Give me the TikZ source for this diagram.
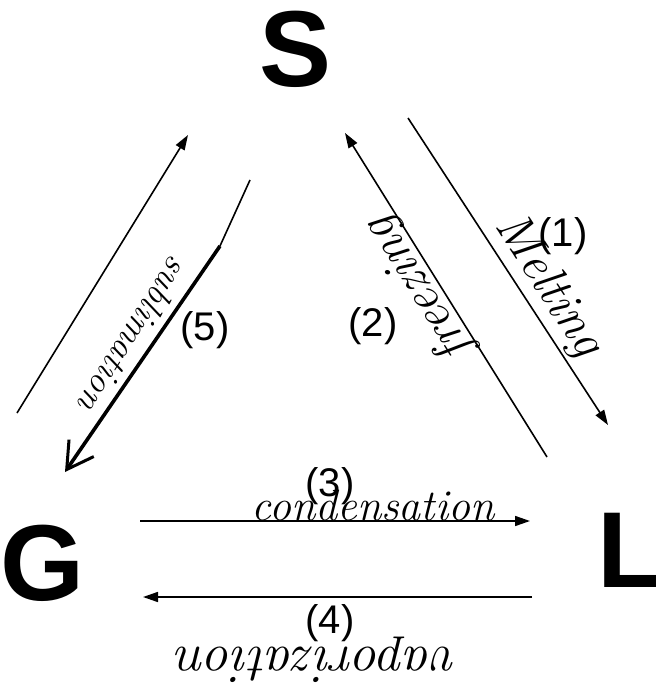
\documentclass[tikz,border=0pt]{standalone}
\usepackage{fontspec}
\newfontfamily\labelfont{Liberation Sans}
\usetikzlibrary{arrows.meta}

\begin{document}
\begin{tikzpicture}[x=1pt, y=-1pt,
  phase/.style={font=\labelfont\bfseries\fontsize{108}{108}\selectfont, inner sep=0pt},
  stepno/.style={font=\labelfont\fontsize{40}{40}\selectfont, inner sep=0pt},
  hand/.style={font=\itshape\fontsize{#1}{#1}\selectfont, inner sep=0pt},
  hand/.default=44,
  flow/.style={-{Triangle[length=15pt,width=10pt]}, line width=1.6pt},
  heavy/.style={-{Straight Barb[length=26pt,width=30pt,line width=3pt]}, line width=3.6pt},
]
\useasboundingbox (0,0) rectangle (655,700);

% phases: solid, gas, liquid
\node[phase, anchor=base] (S) at (296,87) {S};
\node[phase, anchor=base] (G) at (43,600) {G};
\node[phase, anchor=base west] (L) at (597,587) {L};

% arrow ends
\coordinate (m1) at (408,118); \coordinate (m2) at (608,425);
\coordinate (f1) at (547,457); \coordinate (f2) at (345,133);
\coordinate (d1) at (17,413);  \coordinate (d2) at (188,135);
\coordinate (b1) at (250,180); \coordinate (b3) at (220,246);
\coordinate (b2) at (65,472);
\coordinate (c1) at (140,521); \coordinate (c2) at (530,521);
\coordinate (v1) at (532,597); \coordinate (v2) at (143,597);

% S <-> L
\draw[flow] (m1) -- (m2);
\draw[flow] (f1) -- (f2);
% S <-> G
\draw[flow] (d1) -- (d2);
\draw[line width=1.6pt] (b1) -- (b3);
\draw[heavy] (b3) -- (b2);
% G <-> L
\draw[flow] (c1) -- (c2);
\draw[flow] (v1) -- (v2);

% step numbers
\node[stepno] (n1) at (563,236) {(1)};
\node[stepno] (n2) at (373,326) {(2)};
\node[stepno] (n3) at (330,486) {(3)};
\node[stepno] (n4) at (330,623) {(4)};
\node[stepno] (n5) at (205,330) {(5)};

% handwritten names
\node[hand=50, rotate=-57] (melt) at (548,286) {Melting};
\node[hand=50, rotate=122] (freeze) at (419,289) {freezing};
\node[hand=36, rotate=237.6] (subl) at (135,335) {sublimation};
\node[hand=44] (cond) at (373,505) {condensation};
\node[hand=54, rotate=180] (vap) at (317,660) {vaporization};

\end{tikzpicture}
\end{document}
